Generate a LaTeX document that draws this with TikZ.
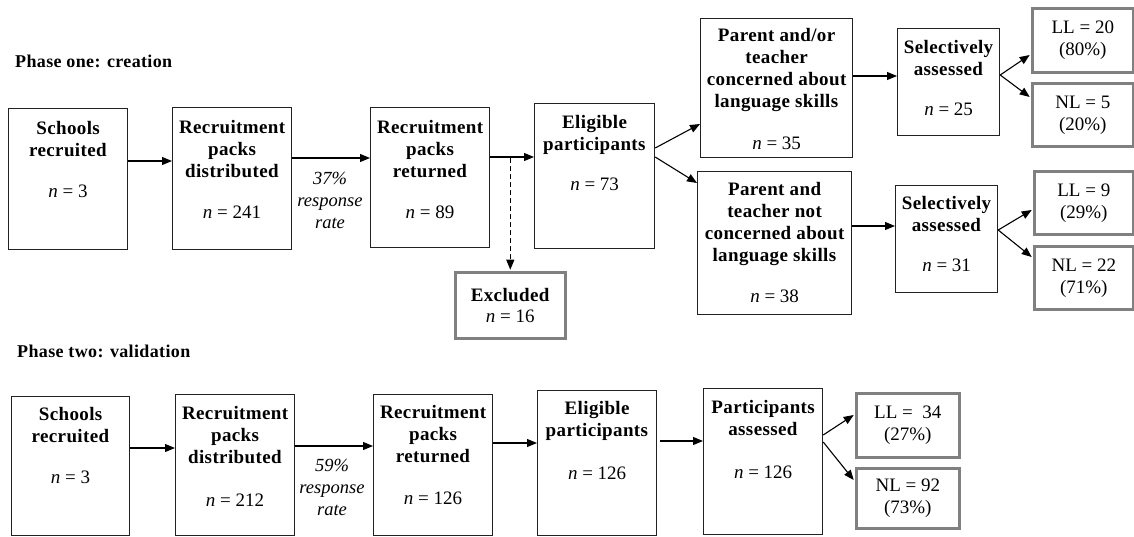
\documentclass[tikz,border=0pt]{standalone}
\usepackage{fontspec}
\setmainfont{Liberation Serif}[BoldFeatures={LetterSpace=2}]
\usetikzlibrary{arrows.meta}
\definecolor{boxline}{HTML}{222222}
\definecolor{grayline}{HTML}{808080}
\newcommand{\bxt}[4]{\parbox[c][#2pt][t]{#1pt}{\centering\vspace*{#3pt}#4\par}}
\tikzset{
  every node/.style={font=\fontsize{19}{22}\selectfont, text=black},
  box/.style={draw=boxline, line width=1.2pt, inner sep=0pt, anchor=north west},
  gbox/.style={draw=grayline, line width=2.6pt, inner sep=0pt, anchor=north west, align=center},
  arr/.style={-{Triangle[length=10pt,width=8pt]}, line width=1.1pt, draw=black},
  head/.style={font=\fontsize{18}{22}\selectfont\bfseries, anchor=base west, inner sep=0pt},
  rr/.style={font=\fontsize{18.5}{22}\selectfont\itshape, align=center, anchor=north, inner sep=0pt},
}
\begin{document}
\begin{tikzpicture}[x=1pt,y=-1pt]
\useasboundingbox (0,0) rectangle (1134,536);

% ---------- Phase one ----------
\node[head] (h1) at (15,67) {Phase one: creation};

\node[box] (s1) at (8,108) {\bxt{119}{141}{12.5}{\textbf{Schools\\recruited}\\[19pt]\textit{n} = 3}};
\node[box] (d1) at (172,107) {\bxt{119}{142}{12.5}{\textbf{Recruitment\\packs\\distributed}\\[19pt]\textit{n} = 241}};
\node[box] (r1) at (370,107) {\bxt{119}{140}{12.5}{\textbf{Recruitment\\packs\\returned}\\[19pt]\textit{n} = 89}};
\node[box] (e1) at (534,103) {\bxt{120}{145}{11.5}{\textbf{Eligible\\participants}\\[18pt]\textit{n} = 73}};
\node[box] (pa) at (700,18) {\bxt{152}{139}{9.5}{\textbf{Parent and/or\\teacher\\concerned about\\language skills}\\[20pt]\textit{n} = 35}};
\node[box] (pn) at (697,171) {\bxt{154}{143}{10.5}{\textbf{Parent and\\teacher not\\concerned about\\language skills}\\[19pt]\textit{n} = 38}};
\node[box] (sa1) at (897,28) {\bxt{102}{107}{11.5}{\textbf{Selectively\\assessed}\\[18pt]\textit{n} = 25}};
\node[box] (sa2) at (895,185) {\bxt{102}{107}{10.5}{\textbf{Selectively\\assessed}\\[18pt]\textit{n} = 31}};

\node[gbox, minimum width=101pt, minimum height=64pt] (ll1) at (1031,7) {LL = 20\\(80\%)};
\node[gbox, minimum width=101pt, minimum height=63pt] (nl1) at (1031,82) {NL = 5\\(20\%)};
\node[gbox, minimum width=99pt, minimum height=63pt] (ll2) at (1033,170) {LL = 9\\(29\%)};
\node[gbox, minimum width=99pt, minimum height=63pt] (nl2) at (1033,245) {NL = 22\\(71\%)};
\node[gbox, minimum width=110pt, minimum height=66pt] (ex) at (454,271) {\textbf{Excluded}\\[-1pt]\textit{n} = 16};

\node[rr] (rr1) at (330,172) {37\%\\response\\rate};

\draw[arr] (s1.east |- 0,161) -- (d1.west |- 0,161);
\draw[arr] (d1.east |- 0,158) -- (r1.west |- 0,158);
\draw[arr] (r1.east |- 0,157) -- (e1.west |- 0,157);
\draw[arr, dash pattern=on 5pt off 3pt] (ex.north |- 0,158) -- ([yshift=1.3pt]ex.north);
\draw[arr] (e1.east |- 0,148) -- (pa.west |- 0,124);
\draw[arr] (e1.east |- 0,157) -- (pn.west |- 0,183);
\draw[arr] (pa.east |- 0,76) -- (sa1.west |- 0,76);
\draw[arr] (pn.east |- 0,226) -- (sa2.west |- 0,226);
\draw[arr] (sa1.east |- 0,75) -- ([xshift=-1.3pt]ll1.west |- 0,55);
\draw[arr] (sa1.east |- 0,75) -- ([xshift=-1.3pt]nl1.west |- 0,97);
\draw[arr] (sa2.east |- 0,230) -- ([xshift=-1.3pt]ll2.west |- 0,210);
\draw[arr] (sa2.east |- 0,230) -- ([xshift=-1.3pt]nl2.west |- 0,257);

% ---------- Phase two ----------
\node[head] (h2) at (17,357) {Phase two: validation};

\node[box] (s2) at (11,396) {\bxt{118}{139}{10.5}{\textbf{Schools\\recruited}\\[19pt]\textit{n} = 3}};
\node[box] (d2) at (175,394) {\bxt{119}{141}{11.5}{\textbf{Recruitment\\packs\\distributed}\\[21pt]\textit{n} = 212}};
\node[box] (r2) at (373,394) {\bxt{119}{141}{10.5}{\textbf{Recruitment\\packs\\returned}\\[20pt]\textit{n} = 126}};
\node[box] (e2) at (537,390) {\bxt{119}{145}{10.5}{\textbf{Eligible\\participants}\\[21pt]\textit{n} = 126}};
\node[box] (pa2) at (703,388) {\bxt{119}{146}{11.5}{\textbf{Participants\\assessed}\\[21pt]\textit{n} = 126}};

\node[gbox, minimum width=103pt, minimum height=64pt] (ll3) at (855,392) {LL = ~34\\(27\%)};
\node[gbox, minimum width=103pt, minimum height=60pt] (nl3) at (855,467) {NL = 92\\(73\%)};

\node[rr] (rr2) at (332,459) {59\%\\response\\rate};

\draw[arr] (s2.east |- 0,448) -- (d2.west |- 0,448);
\draw[arr] (d2.east |- 0,446) -- (r2.west |- 0,446);
\draw[arr] (r2.east |- 0,443) -- (e2.west |- 0,443);
\draw[arr, shorten <=3pt] (e2.east |- 0,441) -- (pa2.west |- 0,441);
\draw[arr] (pa2.east |- 0,435) -- ([xshift=-1.3pt]ll3.west |- 0,415);
\draw[arr] (pa2.east |- 0,442) -- ([xshift=-1.3pt]nl3.west |- 0,480);
\end{tikzpicture}
\end{document}
